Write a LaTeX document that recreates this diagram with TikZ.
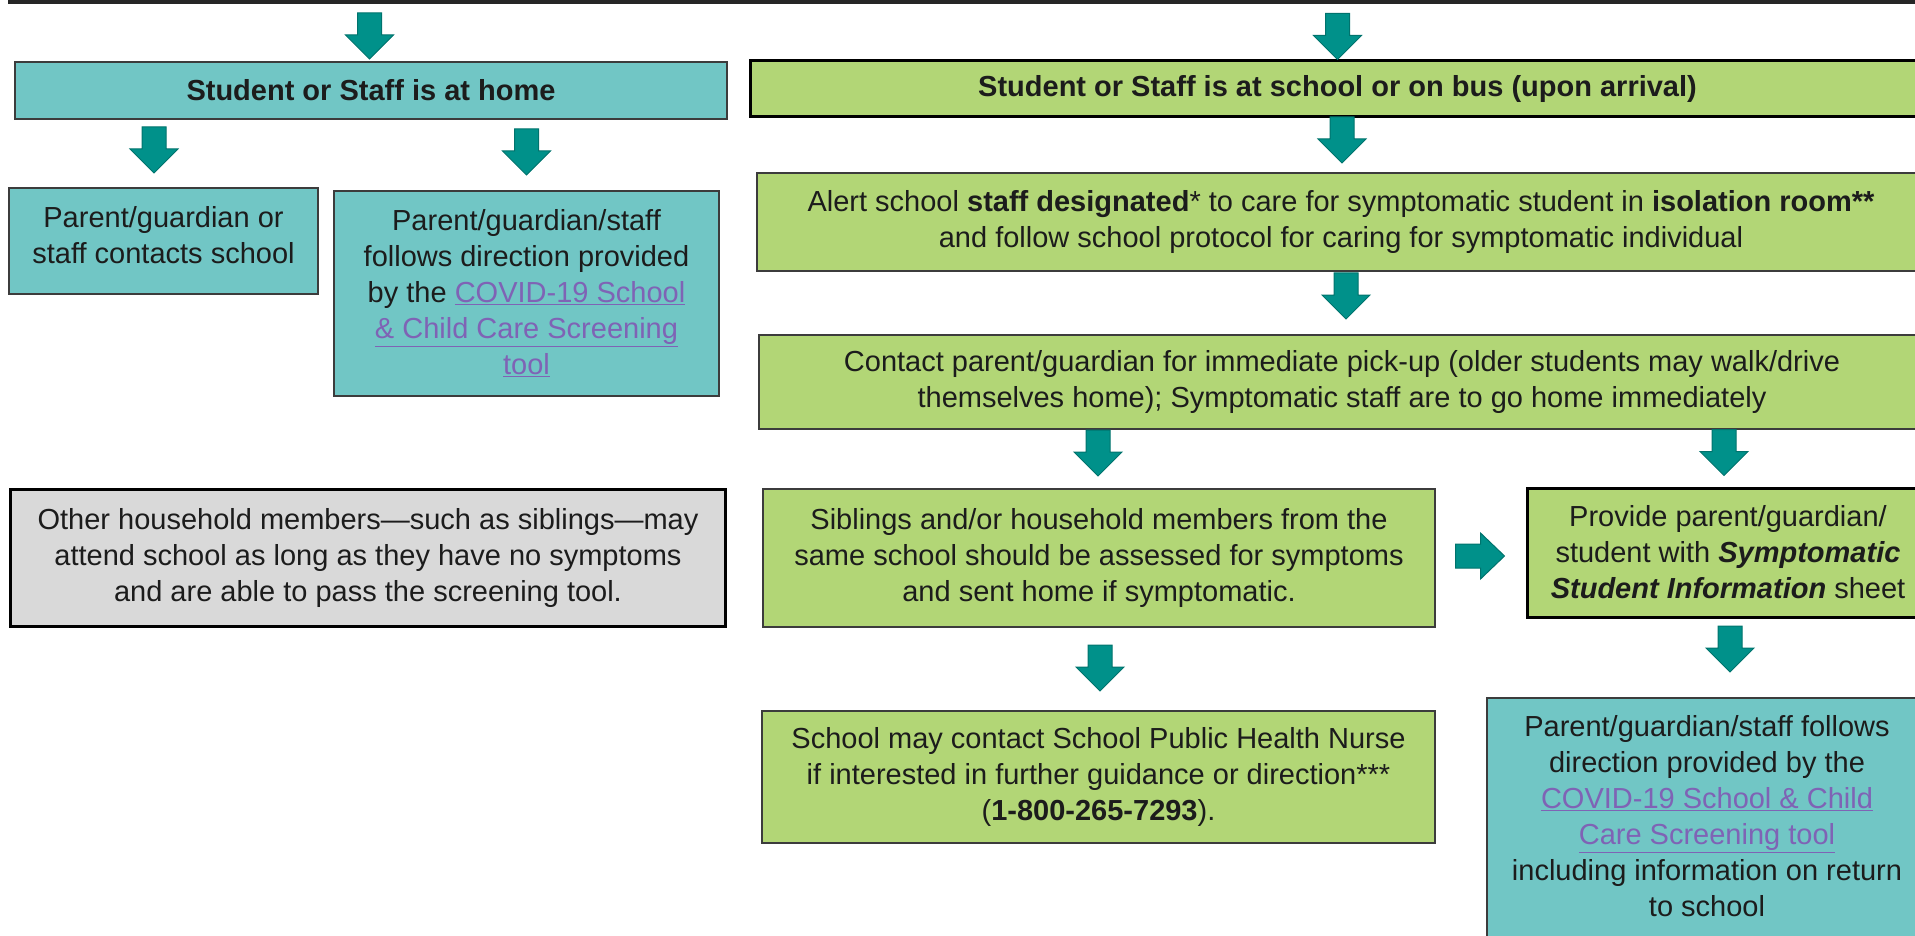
\documentclass[tikz,border=0pt]{standalone}
\usepackage{fontspec}
\setmainfont{Liberation Sans}
\usepackage{tikz}

\definecolor{tealbox}{HTML}{71C6C5}
\definecolor{greenbox}{HTML}{B2D676}
\definecolor{greybox}{HTML}{D9D9D9}
\definecolor{boxedge}{HTML}{3C3C3C}
\definecolor{arrowteal}{HTML}{00918A}
\definecolor{arrowedge}{HTML}{00736D}
\definecolor{linkpurple}{HTML}{7F63B5}
\definecolor{textdark}{HTML}{1C1C1C}

\newcommand{\lnk}[1]{\textcolor{linkpurple}{\underline{#1}}}

\tikzset{
  box/.style={draw=boxedge, line width=2pt, inner sep=0pt, align=center,
    text=textdark, font=\fontsize{29}{36}\selectfont},
  homebox/.style={box, fill=tealbox},
  schoolbox/.style={box, fill=greenbox},
  heavy/.style={draw=black, line width=3pt},
  blockarrow/.style={fill=arrowteal, draw=arrowedge, line width=1pt}
}

\begin{document}
\begin{tikzpicture}[x=1pt, y=-1pt]
\useasboundingbox (0,0) rectangle (1915,936);
\clip (0,0) rectangle (1915,936);
\draw[black!85, line width=4pt] (10,-100) rectangle (1935,2.5);

% first row
\node[homebox, minimum width=712pt, minimum height=57pt] (home) at (371,90.5)
  {\textbf{Student or Staff is at home}};
\node[schoolbox, heavy, minimum width=1175pt, minimum height=56pt] (school) at (1337.5,89)
  {\textbf{Student or Staff is at school or on bus (upon arrival)}};

% home side
\node[homebox, minimum width=309pt, minimum height=106pt] (contacts) at (163.5,241)
  {Parent/guardian or\\staff contacts school\\[-23pt]\mbox{}};
\node[homebox, minimum width=385pt, minimum height=205pt] (follows) at (526.5,293.5)
  {Parent/guardian/staff\\follows direction provided\\by the \lnk{COVID-19 School}\\
   \lnk{\& Child Care Screening}\\\lnk{tool}};
\node[box, heavy, fill=greybox, minimum width=715pt, minimum height=137pt] (others) at (368,557.5)
  {Other household members---such as siblings---may\\attend school as long as they have no symptoms\\
   and are able to pass the screening tool.};

% school side
\node[schoolbox, minimum width=1168pt, minimum height=98pt] (alert) at (1341,222)
  {Alert school \textbf{staff designated}* to care for symptomatic student in \textbf{isolation room**}\\
   and follow school protocol for caring for symptomatic individual};
\node[schoolbox, minimum width=1166pt, minimum height=94pt] (pickup) at (1342,382)
  {Contact parent/guardian for immediate pick-up (older students may walk/drive\\
   themselves home); Symptomatic staff are to go home immediately};
\node[schoolbox, minimum width=672pt, minimum height=138pt] (siblings) at (1099,558)
  {Siblings and/or household members from the\\same school should be assessed for symptoms\\
   and sent home if symptomatic.};
\node[schoolbox, heavy, minimum width=402pt, minimum height=129pt] (provide) at (1728,552.5)
  {Provide parent/guardian/\\student with \textbf{\textit{Symptomatic}}\\
   \textbf{\textit{Student Information}} sheet};
\node[schoolbox, minimum width=673pt, minimum height=132pt] (nurse) at (1098.5,777)
  {School may contact School Public Health Nurse\\if interested in further guidance or direction***\\
   (\textbf{1-800-265-7293}).};
\node[homebox, minimum width=440pt, minimum height=272pt] (guidance) at (1707,834)
  {Parent/guardian/staff follows\\direction provided by the\\\lnk{COVID-19 School \& Child}\\
   \lnk{Care Screening tool}\\including information on return\\to school\\\mbox{}};

% block arrows down onto each box
\foreach \b/\dx/\g in {home/-1.5/2, school/0/0, contacts/-9.5/14, follows/0/15, alert/1/9,
    pickup/4/15, siblings/-1/12, provide/-4/11, nurse/1.5/19, guidance/23/25}
  \draw[blockarrow] ([xshift=\dx pt, yshift=\g pt]\b.north) -- ++(-24,-24) -- ++(12,0)
    -- ++(0,-22) -- ++(24,0) -- ++(0,22) -- ++(12,0) -- cycle;

% block arrow siblings -> provide
\draw[blockarrow] ([xshift=-21pt, yshift=-3.5pt]provide.west) -- ++(-24,-23) -- ++(0,11)
  -- ++(-25,0) -- ++(0,24) -- ++(25,0) -- ++(0,11) -- cycle;
\end{tikzpicture}
\end{document}
